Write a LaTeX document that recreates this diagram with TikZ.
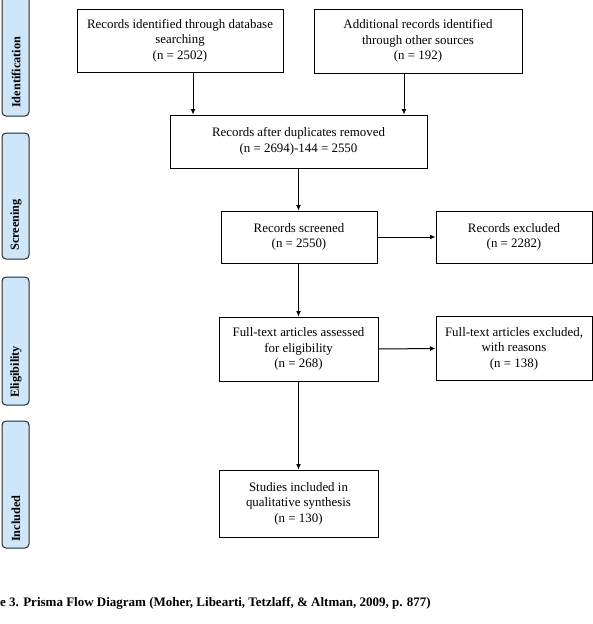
\documentclass[tikz,border=0pt]{standalone}
\usepackage{fontspec}
\setmainfont{Liberation Serif}
\usetikzlibrary{arrows.meta}
\definecolor{phasefill}{RGB}{206,230,250}
\definecolor{phaseline}{RGB}{40,40,40}
\tikzset{
  flowbox/.style={draw=black, line width=1pt, fill=white, align=center, inner sep=2pt,
    font=\fontsize{12.9}{15.5}\selectfont},
  phasebox/.style={draw=phaseline, line width=1pt, fill=phasefill, rounded corners=4pt},
  phaselabel/.style={rotate=90, anchor=west, inner sep=0pt, font=\fontsize{12.3}{14}\selectfont\bfseries},
  flowarrow/.style={draw=black, line width=1pt, -{Latex[length=5.5pt,width=5pt]}}
}
\begin{document}
\begin{tikzpicture}[x=1pt,y=-1pt]
\useasboundingbox (0,0) rectangle (593,624);
% phase bars
\draw[phasebox] (2,-12) rectangle (29,116);
\draw[phasebox] (2,133) rectangle (29,259);
\draw[phasebox] (2,277) rectangle (29,405);
\draw[phasebox] (2,421) rectangle (29,548);
\node[phaselabel] (pid) at (16,108) {Identification};
\node[phaselabel] (psc) at (16,251) {Screening};
\node[phaselabel] (pel) at (16,398) {Eligibility};
\node[phaselabel] (pin) at (16,542) {Included};
% boxes
\node[flowbox, minimum width=206pt, minimum height=63pt] (b1) at (180,40.5)
  {Records identified through database\\searching\\(n = 2502)};
\node[flowbox, minimum width=208pt, minimum height=64pt] (b2) at (418,41)
  {Additional records identified\\through other sources\\(n = 192)};
\node[flowbox, minimum width=257pt, minimum height=53pt] (b3) at (298.5,141.5)
  {Records after duplicates removed\\(n = 2694)-144 = 2550};
\node[flowbox, minimum width=156pt, minimum height=52pt] (b4) at (299,237)
  {Records screened\\(n = 2550)};
\node[flowbox, minimum width=156pt, minimum height=52pt] (b5) at (514,237)
  {Records excluded\\(n = 2282)};
\node[flowbox, minimum width=159pt, minimum height=64pt] (b6) at (298.5,349)
  {Full-text articles assessed\\for eligibility\\(n = 268)};
\node[flowbox, minimum width=156pt, minimum height=64pt] (b7) at (514,348.5)
  {Full-text articles excluded,\\with reasons\\(n = 138)};
\node[flowbox, minimum width=159pt, minimum height=67pt] (b8) at (298.5,503.5)
  {Studies included in\\qualitative synthesis\\(n = 130)};
% arrows
\draw[flowarrow] (b1.south -| 193,0) -- (b3.north -| 193,0);
\draw[flowarrow] (b2.south -| 404,0) -- (b3.north -| 404,0);
\draw[flowarrow] (b3.south -| 298.5,0) -- (b4.north -| 298.5,0);
\draw[flowarrow] (b4.east) -- (b5.west);
\draw[flowarrow] (b4.south -| 298.5,0) -- (b6.north -| 298.5,0);
\draw[flowarrow] (b6.east) -- (b7.west);
\draw[flowarrow] (b6.south -| 298.5,0) -- (b8.north -| 298.5,0);
% caption
\node[anchor=west, inner sep=0pt, font=\fontsize{13}{15}\selectfont\bfseries] (cap) at (0,603)
  {e 3. Prisma Flow Diagram (Moher, Libearti, Tetzlaff, \& Altman, 2009, p. 877)};
\end{tikzpicture}
\end{document}
